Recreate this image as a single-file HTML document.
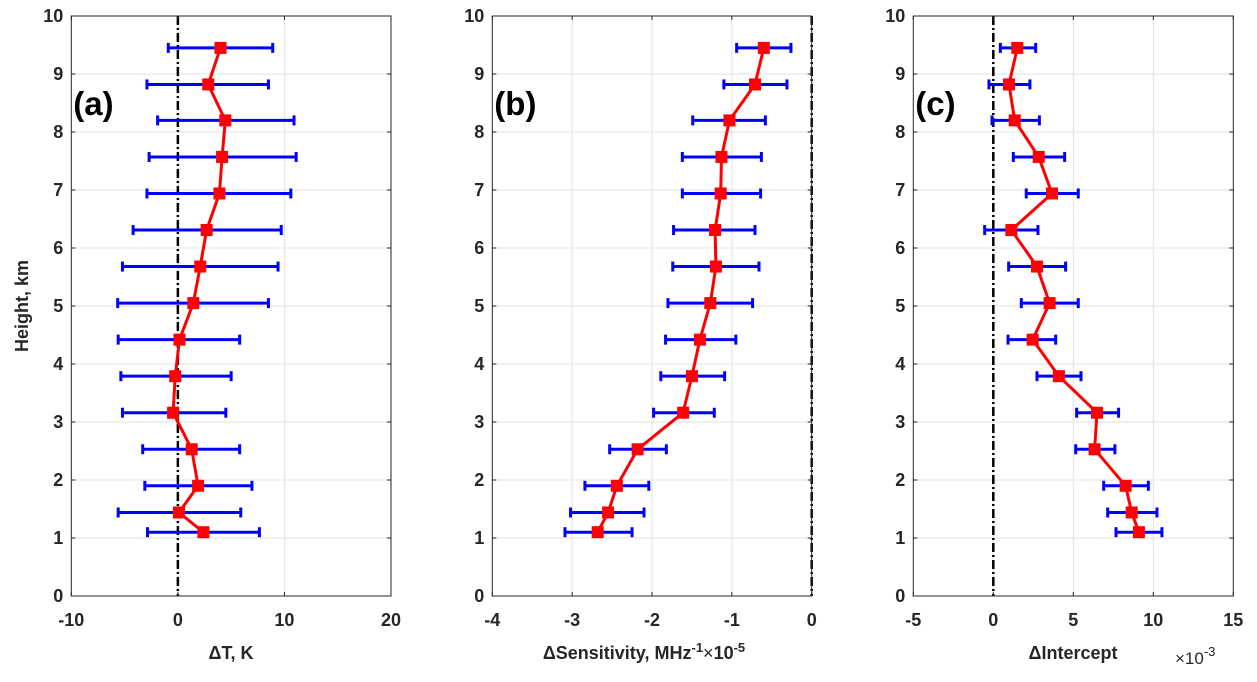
<!DOCTYPE html>
<html><head><meta charset="utf-8">
<style>
html,body{margin:0;padding:0;background:#fff;}
svg{display:block;font-family:"Liberation Sans",sans-serif;}
</style></head>
<body>
<svg id="fig" width="1257" height="682" viewBox="0 0 1257 682" xmlns="http://www.w3.org/2000/svg">
<rect x="0" y="0" width="1257" height="682" fill="#fff"/>
<text transform="translate(28,306) rotate(-90)" text-anchor="middle" font-size="18" font-weight="bold" fill="#262626">Height, km</text>
</svg>
<script>
const heights = [9.45, 8.82, 8.2, 7.57, 6.94, 6.31, 5.68, 5.05, 4.42, 3.79, 3.16, 2.53, 1.90, 1.44, 1.10];
const tempCenter = [4.0, 2.85, 4.45, 4.15, 3.9, 2.7, 2.1, 1.45, 0.15, -0.25, -0.45, 1.3, 1.9, 0.1, 2.4];
const tempLow = [-0.9, -2.9, -1.9, -2.7, -2.9, -4.2, -5.2, -5.65, -5.6, -5.35, -5.2, -3.3, -3.1, -5.6, -2.85];
const tempHigh = [8.9, 8.5, 10.9, 11.1, 10.6, 9.7, 9.4, 8.5, 5.8, 5.0, 4.5, 5.8, 6.95, 5.9, 7.65];
const sensCenter = [-0.60, -0.71, -1.03, -1.13, -1.14, -1.21, -1.20, -1.27, -1.40, -1.50, -1.61, -2.18, -2.44, -2.55, -2.68];
const sensLow = [-0.94, -1.10, -1.49, -1.62, -1.62, -1.73, -1.74, -1.80, -1.83, -1.89, -1.98, -2.53, -2.84, -3.02, -3.09];
const sensHigh = [-0.26, -0.31, -0.58, -0.63, -0.64, -0.71, -0.66, -0.74, -0.95, -1.09, -1.22, -1.82, -2.04, -2.10, -2.25];
const intCenter = [1.5, 0.98, 1.34, 2.84, 3.67, 1.13, 2.73, 3.52, 2.46, 4.1, 6.48, 6.33, 8.27, 8.65, 9.1];
const intLow = [0.44, -0.27, -0.08, 1.25, 2.06, -0.54, 0.96, 1.75, 0.92, 2.73, 5.21, 5.15, 6.9, 7.15, 7.67];
const intHigh = [2.65, 2.29, 2.88, 4.46, 5.31, 2.79, 4.52, 5.31, 3.9, 5.48, 7.83, 7.6, 9.69, 10.23, 10.54];
const yTicks = [0,1,2,3,4,5,6,7,8,9,10];
const xTicksA = [-10,0,10,20];
const xTicksB = [-4,-3,-2,-1,0];
const xTicksC = [-5,0,5,10,15];

const NS="http://www.w3.org/2000/svg";
const svg=document.getElementById('fig');
function el(tag,attrs,parent){const e=document.createElementNS(NS,tag);for(const k in attrs)e.setAttribute(k,attrs[k]);(parent||svg).appendChild(e);return e;}
const Y0=596, Y1=16;
function ys(v){return Y0+(Y1-Y0)*v/10;}

function panel(key,left,right,xmin,xmax,xticks,center,low,high,label){
  const g=el('g',{});
  
  
  const xs=v=>left+(right-left)*(v-xmin)/(xmax-xmin);
  yTicks.forEach(t=>{if(t>0&&t<10){const l=el('line',{x1:left,x2:right,y1:ys(t),y2:ys(t),stroke:'#ebebeb','stroke-width':1.5},g);}});
  xticks.forEach(t=>{if(t>xmin&&t<xmax){const l=el('line',{x1:xs(t),x2:xs(t),y1:Y1,y2:Y0,stroke:'#e6e6e6','stroke-width':1.2},g);}});
  const z=el('line',{x1:xs(0),x2:xs(0),y1:Y1,y2:Y0,stroke:'#000','stroke-width':2.5,'stroke-dasharray':'9,3,2,3'},g);
  
  
  const b=el('rect',{x:left,y:Y1,width:right-left,height:Y0-Y1,fill:'none',stroke:'#262626','stroke-width':1},g);
  
  
  yTicks.forEach(t=>{
    el('line',{x1:left,x2:left+4,y1:ys(t),y2:ys(t),stroke:'#262626'},g);
    el('line',{x1:right,x2:right-4,y1:ys(t),y2:ys(t),stroke:'#262626'},g);
    const tx=el('text',{x:left-8,y:ys(t)+6,'text-anchor':'end','font-size':18,'font-weight':'bold',fill:'#262626'},g);
    tx.textContent=t;
    
    
  });
  xticks.forEach(t=>{
    el('line',{x1:xs(t),x2:xs(t),y1:Y0,y2:Y0-4,stroke:'#262626'},g);
    el('line',{x1:xs(t),x2:xs(t),y1:Y1,y2:Y1+4,stroke:'#262626'},g);
    const tx=el('text',{x:xs(t),y:Y0+30,'text-anchor':'middle','font-size':18,'font-weight':'bold',fill:'#262626'},g);
    tx.textContent=t;
    
    
  });
  heights.forEach((h,i)=>{
    const y=ys(h),a=xs(low[i]),c=xs(high[i]);
    const eb=el('g',{stroke:'#0000ff','stroke-width':3},g);
    
    
    el('line',{x1:a,x2:c,y1:y,y2:y},eb);
    el('line',{x1:a,x2:a,y1:y-5,y2:y+5},eb);
    el('line',{x1:c,x2:c,y1:y-5,y2:y+5},eb);
  });
  const pts=heights.map((h,i)=>xs(center[i]).toFixed(1)+','+ys(h).toFixed(1)).join(' ');
  const pl=el('polyline',{points:pts,fill:'none',stroke:'#ff0000','stroke-width':3,'stroke-linejoin':'round'},g);
  
  
  heights.forEach((h,i)=>{
    const m=el('rect',{x:xs(center[i])-6,y:ys(h)-6,width:12,height:12,fill:'#ff0000'},g);
    
    
  });
  const lb=el('text',{x:left+2,y:115,'font-size':33,'font-weight':'bold',fill:'#000'},g);
  lb.textContent=label;
  
  
  return {g,xs};
}

const A=panel('a',71.3,391,-10,20,xTicksA,tempCenter,tempLow,tempHigh,'(a)');
let t=el('text',{x:231,y:659,'text-anchor':'middle','font-size':18,'font-weight':'bold',fill:'#262626'},A.g);
t.textContent='\u0394T, K';



const B=panel('b',492.3,811.7,-4,0,xTicksB,sensCenter,sensLow,sensHigh,'(b)');
t=el('text',{x:644,y:659,'text-anchor':'middle','font-size':18,'font-weight':'bold',fill:'#262626'},B.g);
t.innerHTML='\u0394Sensitivity, MHz<tspan dy="-7" font-size="13">-1</tspan><tspan dy="7" font-weight="normal">\u00d7</tspan>10<tspan dy="-7" font-size="13">-5</tspan>';



const C=panel('c',913.3,1233.3,-5,15,xTicksC,intCenter,intLow,intHigh,'(c)');
t=el('text',{x:1073,y:659,'text-anchor':'middle','font-size':18,'font-weight':'bold',fill:'#262626'},C.g);
t.textContent='\u0394Intercept';


t=el('text',{x:1175,y:664,'font-size':17,fill:'#262626'},C.g);
t.innerHTML='\u00d710<tspan dy="-8" font-size="13">-3</tspan>';


</script>
</body></html>
